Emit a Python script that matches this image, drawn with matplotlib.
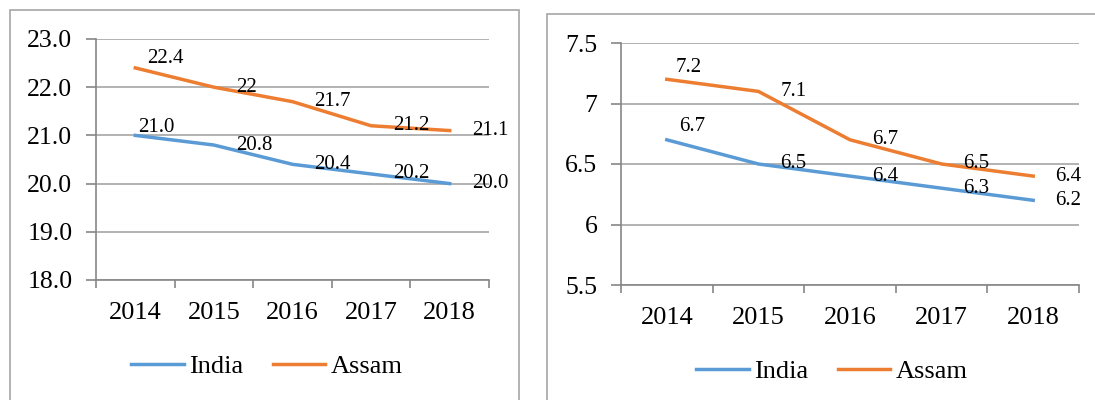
import matplotlib

matplotlib.use("Agg")
import matplotlib.pyplot as plt
from matplotlib.patches import Rectangle
from matplotlib.ticker import FixedLocator, FuncFormatter

plt.rcParams["font.family"] = ["Liberation Serif", "DejaVu Serif"]

years = ["2014", "2015", "2016", "2017", "2018"]

# left chart
left_india = [21.0, 20.8, 20.4, 20.2, 20.0]
left_assam = [22.4, 22.0, 21.7, 21.2, 21.1]
left_india_labels = ["21.0", "20.8", "20.4", "20.2", "20.0"]
left_assam_labels = ["22.4", "22", "21.7", "21.2", "21.1"]
left_yticks = [18.0, 19.0, 20.0, 21.0, 22.0, 23.0]

# right chart
right_india = [6.7, 6.5, 6.4, 6.3, 6.2]
right_assam = [7.2, 7.1, 6.7, 6.5, 6.4]
right_india_labels = ["6.7", "6.5", "6.4", "6.3", "6.2"]
right_assam_labels = ["7.2", "7.1", "6.7", "6.5", "6.4"]
right_yticks = [5.5, 6.0, 6.5, 7.0, 7.5]

BLUE = "#5B9BD5"
ORANGE = "#ED7D31"
GRID = "#A6A6A6"
AXIS = "#868686"


def style_axes(ax, yticks, fmt):
    n = len(years)
    ax.set_xlim(-0.5, n - 0.5)
    ax.set_ylim(yticks[0], yticks[-1])
    # tick marks sit between categories, labels in the middle
    ax.xaxis.set_major_locator(FixedLocator([i - 0.5 for i in range(n + 1)]))
    ax.xaxis.set_major_formatter(FuncFormatter(lambda v, p: ""))
    ax.xaxis.set_minor_locator(FixedLocator(list(range(n))))
    ax.set_xticklabels(years, minor=True)
    ax.tick_params(axis="x", which="major", length=6, color=AXIS, width=1.2)
    ax.tick_params(axis="x", which="minor", length=0, pad=16, labelsize=19)
    ax.set_yticks(yticks)
    ax.yaxis.set_major_formatter(FuncFormatter(fmt))
    ax.tick_params(axis="y", length=7, color=AXIS, width=1.2, pad=10, labelsize=18.5)
    ax.grid(axis="y", color=GRID, linewidth=1.2)
    ax.set_axisbelow(True)
    for side in ("top", "right"):
        ax.spines[side].set_visible(False)
    for side in ("left", "bottom"):
        ax.spines[side].set_color(AXIS)
        ax.spines[side].set_linewidth(1.2)


def add_labels(ax, values, labels, first_offset):
    for i, (v, lab) in enumerate(zip(values, labels)):
        off = first_offset if i == 0 else (22, 0)
        ax.annotate(lab, (i, v), xytext=off, textcoords="offset pixels",
                    ha="left", va="center", fontsize=15)


fig = plt.figure(figsize=(10.95, 4.0), dpi=100)

# chart borders
fig.add_artist(Rectangle((10 / 1095, -0.05), 509 / 1095, 390 / 400 + 0.05,
                         transform=fig.transFigure, fill=False,
                         edgecolor="#A6A6A6", linewidth=1.2))
fig.add_artist(Rectangle((547 / 1095, -0.05), 0.6, 386 / 400 + 0.05,
                         transform=fig.transFigure, fill=False,
                         edgecolor="#A6A6A6", linewidth=1.2))

x = list(range(len(years)))

ax1 = fig.add_axes([96 / 1095, 120 / 400, 393 / 1095, 241 / 400])
l1, = ax1.plot(x, left_india, color=BLUE, linewidth=2.5, label="India")
l2, = ax1.plot(x, left_assam, color=ORANGE, linewidth=2.5, label="Assam")
style_axes(ax1, left_yticks, lambda v, p: f"{v:.1f}")
add_labels(ax1, left_india, left_india_labels, (3, 8))
add_labels(ax1, left_assam, left_assam_labels, (12, 9))
fig.legend(handles=[l1, l2], loc="center", bbox_to_anchor=(267 / 1095, 34 / 400),
           ncol=2, frameon=False, fontsize=19, handlelength=2.0,
           handletextpad=0.2, columnspacing=1.1)

ax2 = fig.add_axes([621 / 1095, 115 / 400, 458 / 1095, 242 / 400])
r1, = ax2.plot(x, right_india, color=BLUE, linewidth=2.5, label="India")
r2, = ax2.plot(x, right_assam, color=ORANGE, linewidth=2.5, label="Assam")
style_axes(ax2, right_yticks, lambda v, p: f"{v:g}")
add_labels(ax2, right_india, right_india_labels, (12, 13))
add_labels(ax2, right_assam, right_assam_labels, (9, 12))
fig.legend(handles=[r1, r2], loc="center", bbox_to_anchor=(832 / 1095, 29 / 400),
           ncol=2, frameon=False, fontsize=19, handlelength=2.0,
           handletextpad=0.2, columnspacing=1.1)

fig.savefig("out.png", dpi=100)
